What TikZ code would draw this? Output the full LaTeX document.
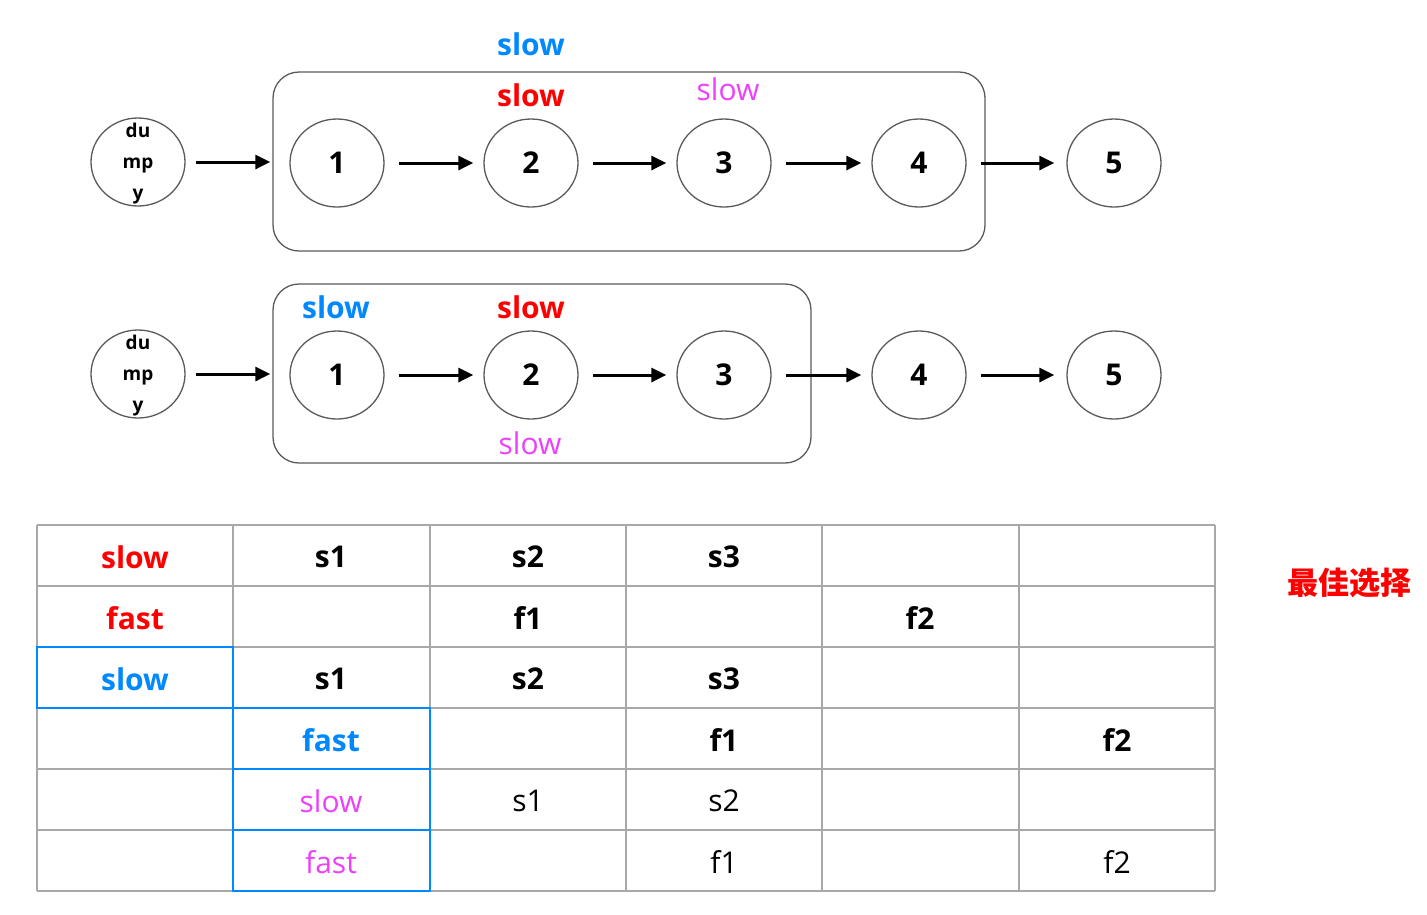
\documentclass[tikz,border=0pt]{standalone}
\usepackage{fontspec}
\setmainfont{Open Sans}
\newfontfamily\cjk{Noto Sans CJK SC}
\usetikzlibrary{shapes.geometric,arrows.meta}
\definecolor{cblue}{RGB}{0,136,255}
\definecolor{cred}{RGB}{255,0,0}
\definecolor{cmag}{RGB}{236,64,250}
\definecolor{cgray}{RGB}{168,168,168}
\definecolor{cedge}{RGB}{90,90,90}
\tikzset{
  lnode/.style={ellipse,draw=cedge,line width=1.3pt,minimum width=94pt,minimum height=88pt,inner sep=0pt,font=\fontsize{30}{30}\selectfont\bfseries},
  dtext/.style={font=\fontsize{19}{31}\selectfont\bfseries,align=center,inner sep=0pt},
  gbox/.style={draw=cedge,line width=1.3pt,rounded corners=26pt,minimum width=712pt,minimum height=179pt,inner sep=0pt},
  arr/.style={line width=3pt,-{Triangle[length=15pt,width=14pt]},shorten <=14pt,shorten >=10pt},
  lbl/.style={font=\fontsize{30}{30}\selectfont,inner sep=0pt},
  blbl/.style={font=\fontsize{30}{30}\selectfont\bfseries,inner sep=0pt},
  cell/.style={font=\fontsize{30}{30}\selectfont,inner sep=0pt},
  bcell/.style={font=\fontsize{30}{30}\selectfont\bfseries,inner sep=0pt},
}
\begin{document}
\begin{tikzpicture}[x=1pt,y=-1pt]
\useasboundingbox (0,0) rectangle (1427,914);
% row 1
\node[gbox] (B1) at (629,161.5) {};
\node[lnode,label={[dtext,yshift=-2pt]center:du\\mp\\y}] (d1) at (138,162) {};
\node[lnode] (a1) at (337,163) {1};
\node[lnode] (a2) at (531,163) {2};
\node[lnode] (a3) at (724,163) {3};
\node[lnode] (a4) at (919,163) {4};
\node[lnode] (a5) at (1114,163) {5};
\draw[arr,shorten <=10pt,shorten >=2pt] (d1) -- (B1.west |- d1);
\draw[arr] (a1) -- (a2);
\draw[arr] (a2) -- (a3);
\draw[arr] (a3) -- (a4);
\draw[arr,shorten >=12pt] (a4) -- (a5);
\node[blbl,text=cblue] (t1) at (531,44) {slow};
\node[blbl,text=cred] (t2) at (531,95) {slow};
\node[lbl,text=cmag] (t3) at (728,89) {slow};
% row 2
\node[gbox,minimum width=538pt] (B2) at (542,373.5) {};
\node[lnode,label={[dtext,yshift=-2pt]center:du\\mp\\y}] (d2) at (138,374) {};
\node[lnode] (b1) at (337,375) {1};
\node[lnode] (b2) at (531,375) {2};
\node[lnode] (b3) at (724,375) {3};
\node[lnode] (b4) at (919,375) {4};
\node[lnode] (b5) at (1114,375) {5};
\draw[arr,shorten <=10pt,shorten >=2pt] (d2) -- (B2.west |- d2);
\draw[arr] (b1) -- (b2);
\draw[arr] (b2) -- (b3);
\draw[arr] (b3) -- (b4);
\draw[arr,shorten >=12pt] (b4) -- (b5);
\node[blbl,text=cblue] (u1) at (336,307) {slow};
\node[blbl,text=cred] (u2) at (531,307) {slow};
\node[lbl,text=cmag] (u3) at (530,443) {slow};
% table grid
\foreach \yy in {525,586,647,708,769,830,891} \draw[cgray,line width=2pt] (37,\yy) -- (1215,\yy);
\foreach \xx in {37,233,430,626,822,1019,1215} \draw[cgray,line width=2pt] (\xx,525) -- (\xx,891);
\draw[cblue,line width=2pt] (37,647) rectangle (233,708);
\draw[cblue,line width=2pt] (233,708) rectangle (430,769);
\draw[cblue,line width=2pt] (233,769) rectangle (430,830);
\draw[cblue,line width=2pt] (233,830) rectangle (430,891);
% row 1
\node[bcell,text=cred] (r1c0) at (135,557) {slow};
\node[bcell] (r1c1) at (331,557) {s1};
\node[bcell] (r1c2) at (528,557) {s2};
\node[bcell] (r1c3) at (724,557) {s3};
% row 2
\node[bcell,text=cred] (r2c0) at (135,618) {fast};
\node[bcell] (r2c2) at (528,618) {f1};
\node[bcell] (r2c4) at (920,618) {f2};
% row 3
\node[bcell,text=cblue] (r3c0) at (135,679) {slow};
\node[bcell] (r3c1) at (331,679) {s1};
\node[bcell] (r3c2) at (528,679) {s2};
\node[bcell] (r3c3) at (724,679) {s3};
% row 4
\node[bcell,text=cblue] (r4c1) at (331,740) {fast};
\node[bcell] (r4c3) at (724,740) {f1};
\node[bcell] (r4c5) at (1117,740) {f2};
% row 5
\node[cell,text=cmag] (r5c1) at (331,801) {slow};
\node[cell] (r5c2) at (528,801) {s1};
\node[cell] (r5c3) at (724,801) {s2};
% row 6
\node[cell,text=cmag] (r6c1) at (331,862) {fast};
\node[cell] (r6c3) at (724,862) {f1};
\node[cell] (r6c5) at (1117,862) {f2};
\node[font=\cjk\fontsize{31}{31}\selectfont\bfseries,text=cred,inner sep=0pt] (best) at (1349,583) {最佳选择};
\end{tikzpicture}
\end{document}
